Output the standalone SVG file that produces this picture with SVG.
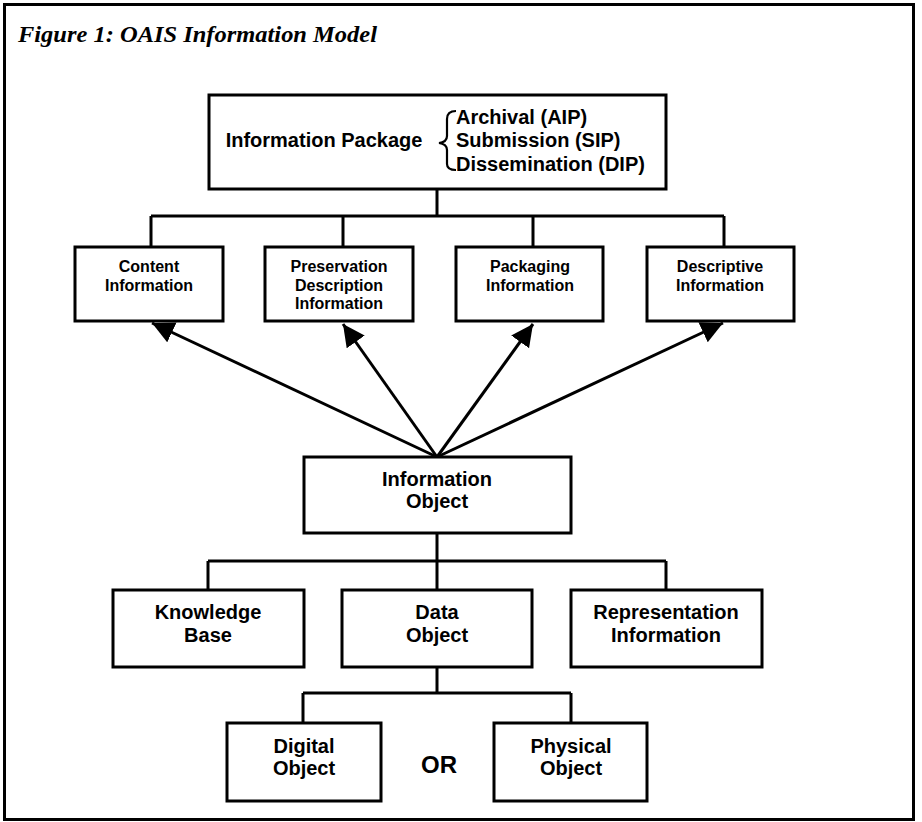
<svg xmlns="http://www.w3.org/2000/svg" width="922" height="822" viewBox="0 0 922 822">
<defs>
<marker id="ah" markerUnits="userSpaceOnUse" markerWidth="24" markerHeight="24" refX="22" refY="11" orient="auto" viewBox="0 0 24 24">
<path d="M0,0 L22,11 L0,22 z" fill="#000"/>
</marker>
<style>
.box{fill:#fff;stroke:#000;stroke-width:3}
.ln{fill:none;stroke:#000;stroke-width:3}
.t{font-family:"Liberation Sans",Arial,Helvetica,sans-serif;font-weight:bold;fill:#000;text-anchor:middle}
.s16{font-size:16px}
.s20{font-size:20px}
</style>
</defs>
<rect x="0" y="0" width="922" height="822" fill="#fff"/>
<rect x="4.5" y="4.5" width="909" height="815" fill="none" stroke="#000" stroke-width="3"/>
<text x="18" y="42" font-family="'Liberation Serif','Times New Roman',serif" font-weight="bold" font-style="italic" font-size="24" textLength="359" lengthAdjust="spacingAndGlyphs">Figure 1: OAIS Information Model</text>

<g id="connectors">
<path class="ln" d="M437,189 V216 M151,216 H724 M151,216 V247 M343,216 V247 M533,216 V247 M724,216 V247"/>
<line class="ln" x1="437" y1="457" x2="152" y2="323" marker-end="url(#ah)"/>
<line class="ln" x1="437" y1="457" x2="343" y2="324" marker-end="url(#ah)"/>
<line class="ln" x1="437" y1="457" x2="533" y2="324" marker-end="url(#ah)"/>
<line class="ln" x1="437" y1="457" x2="723" y2="323" marker-end="url(#ah)"/>
<path class="ln" d="M437,533 V561 M208,561 H666 M208,561 V590 M437,561 V590 M666,561 V590"/>
<path class="ln" d="M437,667 V693 M303,693 H571 M303,693 V723 M571,693 V723"/>
</g>

<g id="information-package">
<rect class="box" x="209" y="95" width="457" height="94"/>
<text class="t s20" x="324" y="147">Information Package</text>
<path d="M456,111 Q447,111 447,119 V136 Q447,142 439,143 Q447,144 447,150 V164 Q447,170 456,170" fill="none" stroke="#000" stroke-width="2.2"/>
<text class="t s20" x="456" y="124" style="text-anchor:start">Archival (AIP)</text>
<text class="t s20" x="456" y="147" style="text-anchor:start">Submission (SIP)</text>
<text class="t s20" x="456" y="171" style="text-anchor:start">Dissemination (DIP)</text>
</g>

<g id="content-information">
<rect class="box" x="75" y="247" width="148" height="74"/>
<text class="t s16" x="149" y="272">Content</text>
<text class="t s16" x="149" y="291">Information</text>
</g>
<g id="preservation-description-information">
<rect class="box" x="265" y="247" width="148" height="74"/>
<text class="t s16" x="339" y="272">Preservation</text>
<text class="t s16" x="339" y="291">Description</text>
<text class="t s16" x="339" y="309">Information</text>
</g>
<g id="packaging-information">
<rect class="box" x="456" y="247" width="147" height="74"/>
<text class="t s16" x="530" y="272">Packaging</text>
<text class="t s16" x="530" y="291">Information</text>
</g>
<g id="descriptive-information">
<rect class="box" x="647" y="247" width="147" height="74"/>
<text class="t s16" x="720" y="272">Descriptive</text>
<text class="t s16" x="720" y="291">Information</text>
</g>

<g id="information-object">
<rect class="box" x="304" y="457" width="267" height="76"/>
<text class="t s20" x="437" y="486">Information</text>
<text class="t s20" x="437" y="508">Object</text>
</g>

<g id="knowledge-base">
<rect class="box" x="113" y="590" width="191" height="77"/>
<text class="t s20" x="208" y="619">Knowledge</text>
<text class="t s20" x="208" y="642">Base</text>
</g>
<g id="data-object">
<rect class="box" x="342" y="590" width="190" height="77"/>
<text class="t s20" x="437" y="619">Data</text>
<text class="t s20" x="437" y="642">Object</text>
</g>
<g id="representation-information">
<rect class="box" x="571" y="590" width="191" height="77"/>
<text class="t s20" x="666" y="619">Representation</text>
<text class="t s20" x="666" y="642">Information</text>
</g>

<g id="digital-object">
<rect class="box" x="227" y="723" width="154" height="78"/>
<text class="t s20" x="304" y="753">Digital</text>
<text class="t s20" x="304" y="775">Object</text>
</g>
<text class="t" x="439" y="773" font-size="24">OR</text>
<g id="physical-object">
<rect class="box" x="494" y="723" width="153" height="78"/>
<text class="t s20" x="571" y="753">Physical</text>
<text class="t s20" x="571" y="775">Object</text>
</g>
</svg>
